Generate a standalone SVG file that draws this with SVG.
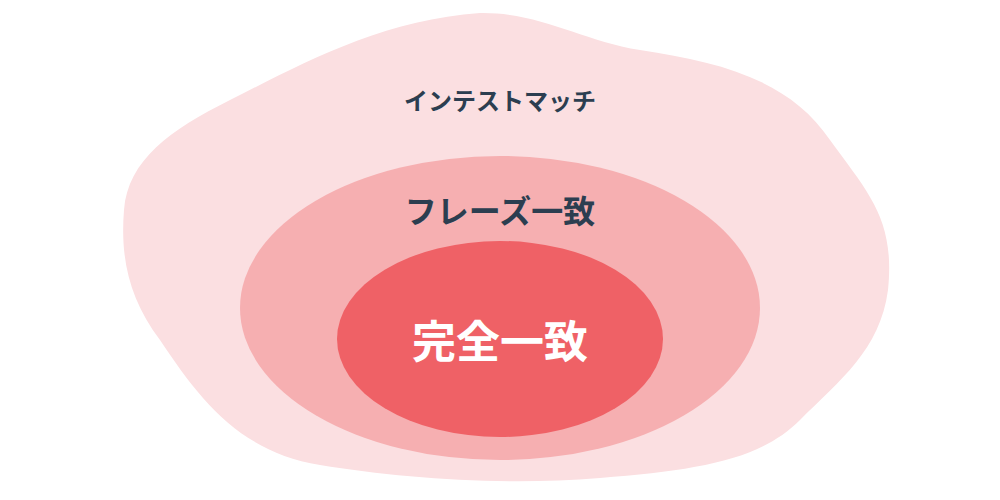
<svg xmlns="http://www.w3.org/2000/svg" width="1000" height="500" viewBox="0 0 1000 500">
<style>
text{font-family:"Noto Sans CJK JP",sans-serif;font-weight:bold;text-anchor:middle;dominant-baseline:central}
.d{fill:#2c3e50}
</style>
<rect width="1000" height="500" fill="#fff"/>
<g id="outer">
<path d="M480,13 C540,12 580,40 640,50 C720,62 790,80 830,140 C870,195 895,220 888,290 C880,350 840,380 800,420 C760,460 700,470 600,478 C500,486 400,478 320,465 C240,452 200,400 160,340 C130,300 120,260 124,210 C128,160 170,130 230,100 C300,65 380,20 480,13 Z" fill="#fbdfe1"/>
<text class="d" x="500" y="99" font-size="24">インテストマッチ</text>
</g>
<g id="phrase">
<ellipse cx="500" cy="308" rx="260" ry="152" fill="#f6afb1"/>
<text class="d" x="500" y="209" font-size="32">フレーズ一致</text>
</g>
<g id="exact">
<ellipse cx="500" cy="339" rx="163" ry="98" fill="#ef6166"/>
<text x="500" y="339" font-size="44" fill="#fff">完全一致</text>
</g>
<g id="connectors"/>
</svg>
